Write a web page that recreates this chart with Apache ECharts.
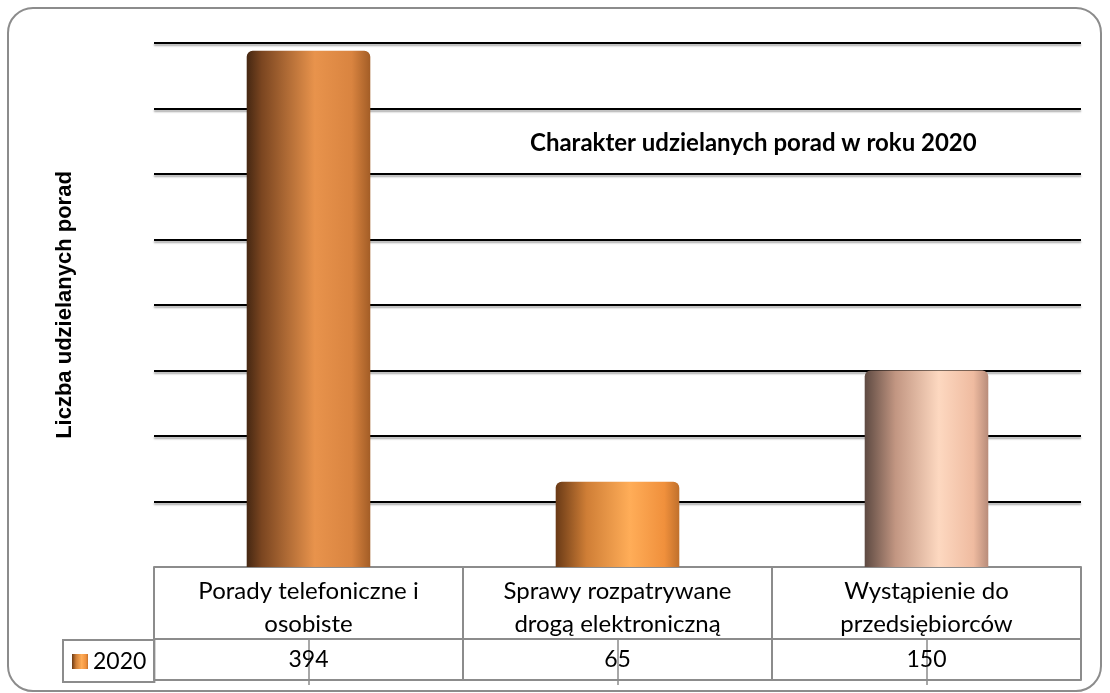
<!DOCTYPE html>
<html>
<head>
<meta charset="utf-8">
<script src="https://cdn.jsdelivr.net/npm/echarts@6/dist/echarts.min.js"></script>
<style>
  html, body { margin: 0; padding: 0; background: #fff; }
  #chart { width: 1110px; height: 693px; }
</style>
</head>
<body>
<div id="chart"></div>
<script>
// dane z wykresu
const categories = ["Porady telefoniczne i\nosobiste", "Sprawy rozpatrywane\ndrogą elektroniczną", "Wystąpienie do\nprzedsiębiorców"]
const seriesName = "2020"
const values = [394, 65, 150]
const chartTitle = "Charakter udzielanych porad w roku 2020"
const yTitle = "Liczba udzielanych porad"

const gray = "#8c8c8c"
const fontMain = "Lato, 'Noto Sans', sans-serif"

const grad = (stops) => new echarts.graphic.LinearGradient(0, 0, 1, 0,
  stops.map(([offset, color]) => ({ offset, color })))

// cieniowanie słupków (walce)
const barColors = [
  grad([[0, "#452712"], [0.12, "#7a4520"], [0.55, "#e8934c"], [0.85, "#d98440"], [1, "#a35d26"]]),
  grad([[0, "#6a3a16"], [0.25, "#cf7e36"], [0.6, "#ffad58"], [0.88, "#f0903c"], [1, "#c0702c"]]),
  grad([[0, "#5e4a42"], [0.25, "#c29682"], [0.6, "#fdd8c0"], [0.88, "#efbba0"], [1, "#b88c7a"]])
]

const chart = echarts.init(document.getElementById("chart"))

const option = {
  animation: false,
  title: {
    text: chartTitle,
    left: 525,
    top: 126,
    textStyle: { fontFamily: fontMain, fontWeight: "bold", fontSize: 24, color: "#000" }
  },
  legend: {
    data: [seriesName],
    left: 63,
    top: 640,
    orient: "horizontal",
    padding: [10, 8, 9, 9],
    itemWidth: 16,
    itemHeight: 15,
    borderColor: gray,
    borderWidth: 2,
    icon: "rect",
    textStyle: { fontFamily: fontMain, fontSize: 23, color: "#000" }
  },
  grid: { left: 154, right: 29, top: 43, bottom: 126 },
  xAxis: [
    {
      type: "category",
      data: categories,
      position: "bottom",
      axisLine: { lineStyle: { color: gray, width: 2 } },
      axisTick: { show: true, alignWithLabel: true, inside: true, length: 7, lineStyle: { color: gray, width: 1.5 } },
      axisLabel: { interval: 0, margin: 8, fontFamily: fontMain, fontSize: 24, lineHeight: 33, color: "#000" }
    },
    {
      type: "category",
      data: values.map(String),
      position: "bottom",
      offset: 72,
      axisLine: { lineStyle: { color: gray, width: 2 } },
      axisTick: { show: true, alignWithLabel: true, length: 46, lineStyle: { color: gray, width: 1.5 } },
      axisLabel: { interval: 0, margin: 9, fontFamily: fontMain, fontSize: 23, color: "#000" }
    },
    {
      type: "category",
      data: categories,
      position: "bottom",
      offset: 113,
      axisLine: { lineStyle: { color: gray, width: 2 } },
      axisTick: { show: true, interval: 0, inside: true, length: 113, lineStyle: { color: gray, width: 2 } },
      axisLabel: { show: false }
    }
  ],
  yAxis: {
    type: "value",
    min: 0,
    max: 400,
    interval: 50,
    name: yTitle,
    nameLocation: "middle",
    nameRotate: 90,
    nameGap: 78,
    nameTextStyle: { fontFamily: "'Liberation Sans', Arial, sans-serif", fontWeight: "bold", fontSize: 22, color: "#000" },
    axisLine: { show: false },
    axisTick: { show: false },
    axisLabel: { show: false },
    splitLine: {
      showMinLine: false,
      lineStyle: { color: "#000", width: 2, shadowColor: "rgba(0,0,0,0.35)", shadowBlur: 2, shadowOffsetY: 2 }
    }
  },
  series: [{
    name: seriesName,
    type: "bar",
    barWidth: "40%",
    itemStyle: { color: barColors[1], borderRadius: [6, 6, 0, 0] },
    data: values.map((v, i) => ({ value: v, itemStyle: { color: barColors[i] } }))
  }],
  graphic: [{
    type: "rect",
    shape: { x: 8, y: 8, width: 1093, height: 683, r: 25 },
    style: { fill: null, stroke: gray, lineWidth: 2 },
    silent: true
  }]
}

chart.setOption(option)
window.addEventListener("resize", chart.resize)
</script>
</body>
</html>
